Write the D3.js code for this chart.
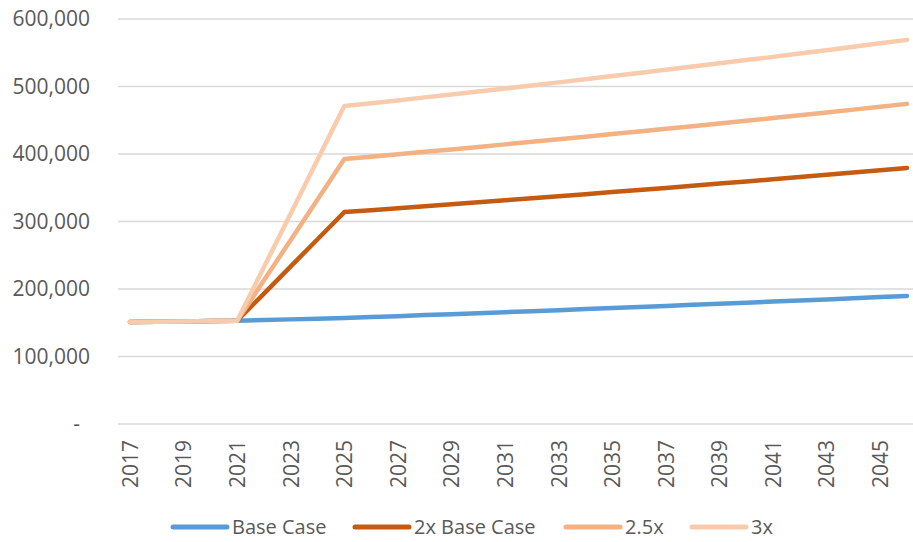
<!DOCTYPE html>
<html>
<head>
<meta charset="utf-8">
<script src="https://cdn.jsdelivr.net/npm/d3@7"></script>
<style>
  html, body { margin: 0; padding: 0; background: #fff; }
  svg { display: block; font-family: "Open Sans", sans-serif; }
</style>
</head>
<body>
<svg id="chart" width="913" height="542"></svg>
<script>
const years = d3.range(2017, 2047);
const seriesNames = ["Base Case", "2x Base Case", "2.5x", "3x"];
const baseCase = [151000, 151500, 152000, 152500, 153000, 154000, 155000, 156000, 157000,
  158400, 159800, 161300, 162700, 164200, 165700, 167200, 168700, 170200, 171800,
  173300, 174900, 176500, 178100, 179700, 181300, 183000, 184600, 186300, 188000, 189700];
const twoX = [151000, 151500, 152000, 152500, 153000, 193250, 233500, 273750, 314000,
  316800, 319600, 322600, 325400, 328400, 331400, 334400, 337400, 340400, 343600,
  346600, 349800, 353000, 356200, 359400, 362600, 366000, 369200, 372600, 376000, 379400];
const twoHalfX = [151000, 151500, 152000, 152500, 153000, 212875, 272750, 332625, 392500,
  396000, 399500, 403250, 406750, 410500, 414250, 418000, 421750, 425500, 429500,
  433250, 437250, 441250, 445250, 449250, 453250, 457500, 461500, 465750, 470000, 474250];
const threeX = [151000, 151500, 152000, 152500, 153000, 232500, 312000, 391500, 471000,
  475200, 479400, 483900, 488100, 492600, 497100, 501600, 506100, 510600, 515400,
  519900, 524700, 529500, 534300, 539100, 543900, 549000, 553800, 558900, 564000, 569100];
const yTicks = [0, 100000, 200000, 300000, 400000, 500000, 600000];
const xTickLabels = d3.range(2017, 2047, 2);
const colors = ["#5B9BD5", "#C55A11", "#F4B183", "#F8CBAD"];

const allSeries = [baseCase, twoX, twoHalfX, threeX];
const svg = d3.select("#chart");

const plotLeft = 118, plotRight = 913;
const x = d3.scalePoint().domain(years).range([130, 907]);
const y = d3.scaleLinear().domain([0, 600000]).range([424, 19]);

// gridlines
svg.append("g").selectAll("line").data(yTicks).join("line")
  .attr("x1", plotLeft).attr("x2", plotRight)
  .attr("y1", d => y(d)).attr("y2", d => y(d))
  .attr("stroke", "#d9d9d9").attr("stroke-width", 1.5);

// y axis
const yAxis = svg.append("g").attr("transform", `translate(${plotLeft},0)`)
  .call(d3.axisLeft(y).tickValues(yTicks).tickSize(0).tickPadding(28)
    .tickFormat(d => d === 0 ? "-" : d3.format(",")(d)));
yAxis.select(".domain").remove();
yAxis.selectAll("text").attr("font-size", 21).attr("fill", "#595959")
  .attr("font-family", "Open Sans, sans-serif")
  .attr("dx", d => d === 0 ? -10 : 0);

// x axis
const xAxis = svg.append("g").attr("transform", `translate(0,${y(0)})`)
  .call(d3.axisBottom(x).tickValues(xTickLabels).tickSize(0).tickPadding(0));
xAxis.select(".domain").remove();
xAxis.selectAll("text")
  .attr("font-size", 21).attr("fill", "#595959")
  .attr("font-family", "Open Sans, sans-serif")
  .attr("text-anchor", "end")
  .attr("transform", "rotate(-90)")
  .attr("x", -16).attr("y", 0).attr("dy", "0.35em");

// lines
const line = d3.line().x((d, i) => x(years[i])).y(d => y(d));
svg.append("g").selectAll("path").data(allSeries).join("path")
  .attr("d", d => line(d))
  .attr("fill", "none")
  .attr("stroke", (d, i) => colors[i])
  .attr("stroke-width", 4.5)
  .attr("stroke-linecap", "round")
  .attr("stroke-linejoin", "round");

// legend
const legendX = [173, 355, 566, 692];
const legend = svg.append("g").selectAll("g").data(seriesNames).join("g")
  .attr("transform", (d, i) => `translate(${legendX[i]},527)`);
legend.append("line").attr("x1", 0).attr("x2", 54).attr("y1", 0).attr("y2", 0)
  .attr("stroke", (d, i) => colors[i]).attr("stroke-width", 5).attr("stroke-linecap", "round");
legend.append("text").attr("x", 59).attr("y", 0).attr("dy", "0.35em")
  .attr("font-size", 20).attr("fill", "#595959").text(d => d);
</script>
</body>
</html>
